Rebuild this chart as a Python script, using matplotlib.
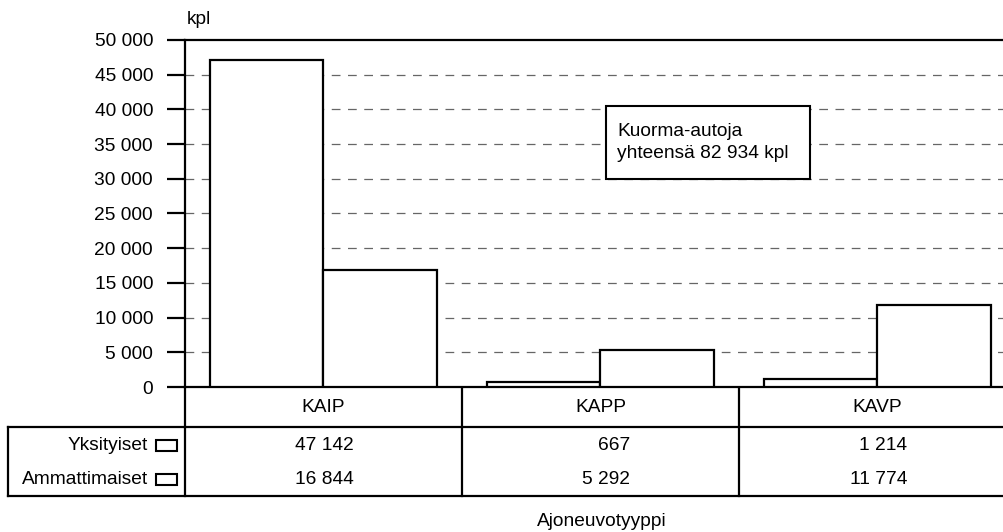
import matplotlib
matplotlib.use("Agg")
import matplotlib.pyplot as plt
from matplotlib.ticker import FuncFormatter, MultipleLocator
from matplotlib.patches import Rectangle
import numpy as np

# ── Data ───────────────────────────────────────────────────────────────────────
categories   = ["KAIP", "KAPP", "KAVP"]
series_names = ["Yksityiset", "Ammattimaiset"]
yksityiset   = [47142, 667, 1214]
ammattimaiset = [16844, 5292, 11774]
total_note   = ["Kuorma-autoja", "yhteensä 82 934 kpl"]
y_unit       = "kpl"
x_title      = "Ajoneuvotyyppi"

plt.rcParams["font.family"] = ["Liberation Sans", "DejaVu Sans"]
FS = 13.8

W, H = 1004, 532
fig = plt.figure(figsize=(W / 100, H / 100), dpi=100)

# plot area in pixels (the right edge runs just past the image border)
L, R, T, B = 185, 1016, 40, 387
ax = fig.add_axes([L / W, 1 - B / H, (R - L) / W, (B - T) / H])

def fmt(v):
    return f"{int(round(v)):,}".replace(",", " ")

x = np.arange(len(categories))
bw = 0.408
ax.bar(x - bw / 2, yksityiset, bw, color="white", edgecolor="black", linewidth=1.6, zorder=3)
ax.bar(x + bw / 2, ammattimaiset, bw, color="white", edgecolor="black", linewidth=1.6, zorder=3)

ax.set_xlim(-0.5, len(categories) - 0.5)
ax.set_ylim(0, 50000)
ax.yaxis.set_major_locator(MultipleLocator(5000))
ax.yaxis.set_major_formatter(FuncFormatter(lambda v, p: fmt(v)))
ax.set_xticks([])
ax.tick_params(axis="y", direction="out", length=13, width=1.6, labelsize=FS, pad=10)
for yv in range(5000, 50000, 5000):
    ax.axhline(yv, color="#666666", lw=0.9, ls=(0, (7, 6)), zorder=1)
ax.spines["right"].set_visible(False)
for s in ["left", "top", "bottom"]:
    ax.spines[s].set_linewidth(1.6)

# ── Overlay in pixel coordinates: unit label, note box, table ─────────────────
ov = fig.add_axes([0, 0, 1, 1], zorder=-1)
ov.set_xlim(0, W)
ov.set_ylim(H, 0)
ov.axis("off")

fig.text(187 / W, 1 - 20 / H, y_unit, fontsize=FS, ha="left", va="center")

# note box
note = Rectangle((606, 106), 204, 73, fc="white", ec="black", lw=1.5, zorder=5,
                 transform=ov.transData)
fig.add_artist(note)
fig.text(617 / W, 1 - 131 / H, total_note[0], fontsize=FS, ha="left", va="center", zorder=6)
fig.text(617 / W, 1 - 154 / H, total_note[1], fontsize=FS, ha="left", va="center", zorder=6)

colw = (R - L) / len(categories)
edges = [L + colw * k for k in range(len(categories) + 1)]
row_cat, row_top, row_bot = 387, 427, 496
lw = 1.6
ov.plot([L, R], [row_top, row_top], color="black", lw=lw)
ov.plot([8, R], [row_bot, row_bot], color="black", lw=lw)
ov.plot([8, L], [row_top, row_top], color="black", lw=lw)
ov.plot([8, 8], [row_top, row_bot], color="black", lw=lw)
ov.plot([L, L], [row_cat, row_bot], color="black", lw=lw)
for e in edges[1:-1]:
    ov.plot([e, e], [row_cat, row_bot], color="black", lw=lw)

row_y = [445, 479]
for i, cat in enumerate(categories):
    cx = edges[i] + colw / 2
    ov.text(cx, 408, cat, ha="center", va="center", fontsize=FS)
    for j, vals in enumerate([yksityiset, ammattimaiset]):
        ov.text(cx + 30, row_y[j], fmt(vals[i]), ha="right", va="center", fontsize=FS)

for j, name in enumerate(series_names):
    ov.text(148, row_y[j], name, ha="right", va="center", fontsize=FS)
    ov.add_patch(Rectangle((156, row_y[j] - 5), 21, 11, fc="white", ec="black", lw=1.5))

ov.text(602, 521, x_title, ha="center", va="center", fontsize=FS)

fig.savefig("out.png", dpi=100)
